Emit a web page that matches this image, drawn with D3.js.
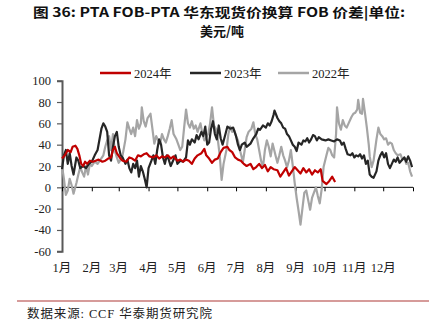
<!DOCTYPE html>
<html><head><meta charset="utf-8">
<script src="https://cdn.jsdelivr.net/npm/d3@7"></script>
<style>body{margin:0;background:#fff}svg{display:block}</style>
</head><body>
<script>
// ---- data (x = day of year, y = USD/ton) ----
const monthLabels = ["1月","2月","3月","4月","5月","6月","7月","8月","9月","10月","11月","12月"];
const monthStarts = [1,32,60,91,121,152,182,213,244,274,305,335,366];
const yTicks = [-60,-40,-20,0,20,40,60,80,100];
const seriesNames = ["2024年","2023年","2022年"];
const seriesColors = ["#c00000","#262626","#a5a5a5"];

const days2024 = [1,4,7,10,12,15,17,19,21,23,25,27,30,33,36,39,43,46,49,52,54,56,58,61,64,68,71,74,77,80,83,86,89,92,96,99,102,105,108,111,114,117,121,124,127,130,133,136,139,142,146,149,151,154,157,160,163,166,169,173,175,178,181,184,187,190,193,197,200,203,206,209,212,215,218,221,225,228,231,234,237,240,243,246,249,252,255,258,261,264,267,270,272,276,279,282,285];
const vals2024 = [27,30,35,33,38,39,36,30,22,20,24,22,25,24,25,26,24,25,27,28,35,38,32,28,25,24,28,27,25,30,29,31,32,29,28,30,27,29,28,30,27,29,25,26,24,26,25,22,27,30,32,36,30,27,23,26,27,33,37,38,35,33,28,26,25,22,20,22,17,19,22,18,21,15,19,17,16,10,14,18,11,15,19,16,13,18,14,17,12,16,14,17,6,3,6,10,5];

const days2023 = [1,3,5,7,9,11,13,16,18,20,23,26,29,32,35,38,42,44,46,48,50,52,54,56,58,60,62,64,67,69,71,73,75,77,79,81,83,85,87,89,91,94,96,98,100,102,104,106,108,110,112,114,116,119,121,124,127,130,132,134,136,139,141,143,146,148,150,152,154,156,158,160,162,164,166,168,171,173,176,179,182,184,186,188,191,193,197,200,203,205,207,210,213,215,217,219,221,222,225,227,229,231,233,235,237,239,241,243,245,247,250,252,254,256,258,260,262,264,266,268,271,275,278,281,284,287,290,292,294,296,298,301,303,305,307,309,311,313,315,317,319,321,323,325,328,330,332,334,336,338,340,342,344,346,348,350,352,355,357,359,361,363,365];
const vals2023 = [17,30,35,22,32,20,12,28,25,18,20,18,22,24,30,35,55,60,57,52,30,25,38,48,52,38,30,28,22,26,18,14,22,18,25,10,20,15,8,0,18,25,30,22,35,45,40,28,22,30,26,20,24,30,22,25,24,28,44,40,45,42,49,45,52,48,57,40,42,55,62,50,45,58,46,40,50,57,55,56,48,40,35,40,42,38,41,46,50,55,54,58,56,60,58,62,68,72,65,62,60,56,55,50,48,44,40,38,34,42,40,44,43,46,42,45,49,48,44,47,45,44,45,44,43,45,44,40,42,36,31,30,32,28,30,29,31,27,30,22,25,12,10,9,15,25,30,33,28,32,22,18,22,26,24,28,23,26,28,24,29,25,19];

const days2022 = [1,3,5,7,9,11,13,16,18,20,22,24,26,28,30,32,35,38,41,44,46,48,50,52,54,56,58,60,62,64,67,69,71,73,75,77,79,81,83,84,86,88,90,93,95,97,99,101,103,105,107,109,111,113,115,117,120,122,124,126,128,130,132,134,136,138,140,142,145,147,149,151,153,155,157,159,161,163,165,167,169,172,174,176,178,180,182,184,186,188,189,191,193,195,198,200,202,204,206,208,210,212,214,216,218,220,223,225,227,229,231,233,235,237,239,241,243,245,247,249,251,253,255,257,259,261,263,265,267,269,271,273,276,278,280,282,284,286,287,289,291,293,295,297,299,302,304,306,308,309,311,313,314,316,318,320,321,323,325,328,330,332,334,336,338,340,342,344,346,348,350,353,355,357,359,361,363,365];
const vals2022 = [20,8,-7,-3,8,2,-6,4,12,19,14,10,20,12,22,20,24,22,26,30,38,44,48,35,50,34,28,23,26,30,45,61,55,50,56,48,63,55,60,75,62,57,65,69,55,41,48,44,41,50,45,42,48,55,63,50,45,40,35,38,56,73,60,56,62,55,58,52,60,50,44,47,50,60,75,58,55,45,30,7,22,35,50,57,52,54,48,44,35,28,23,35,47,52,55,61,50,45,35,25,19,35,44,38,29,41,30,23,30,38,30,25,19,25,35,20,4,-10,-22,-35,-20,-5,-3,-12,-21,-10,-5,0,-8,-15,-2,19,30,37,35,30,28,50,75,60,54,63,58,56,60,66,69,70,73,82,70,69,83,70,56,40,29,19,25,45,56,50,48,45,46,40,42,41,35,32,30,31,26,28,22,23,15,10];

const series = [
  {name: seriesNames[2], color: seriesColors[2], days: days2022, vals: vals2022},
  {name: seriesNames[1], color: seriesColors[1], days: days2023, vals: vals2023},
  {name: seriesNames[0], color: seriesColors[0], days: days2024, vals: vals2024}
];

// ---- layout ----
const W = 432, H = 328;
const svg = d3.select("body").append("svg").attr("width", W).attr("height", H);

const x = d3.scaleLinear().domain([1, 366]).range([62, 413]);
const y = d3.scaleLinear().domain([-60, 100]).range([251.3, 80.7]);

// title
svg.append("text").attr("x", 219).attr("y", 17)
  .attr("text-anchor", "middle")
  .attr("font-family", "'Noto Sans CJK SC', sans-serif").attr("font-weight", "bold")
  .attr("font-size", 13).attr("fill", "#111")
  .attr("textLength", 372).attr("lengthAdjust", "spacingAndGlyphs")
  .text("图 36: PTA FOB-PTA 华东现货价换算 FOB 价差|单位:");
svg.append("text").attr("x", 222).attr("y", 36)
  .attr("text-anchor", "middle")
  .attr("font-family", "'Noto Sans CJK SC', sans-serif").attr("font-weight", "bold")
  .attr("font-size", 13).attr("fill", "#111")
  .text("美元/吨");

// y axis
const yAxis = svg.append("g").attr("transform", `translate(${x(1)},0)`)
  .call(d3.axisLeft(y).tickValues(yTicks).tickSize(5).tickPadding(6).tickFormat(d => String(d)));
yAxis.select(".domain").attr("stroke", "#595959").attr("stroke-width", 2);
yAxis.selectAll(".tick line").attr("stroke", "#595959").attr("stroke-width", 1.2);
yAxis.selectAll(".tick text").attr("font-family", "'Liberation Serif', serif")
  .attr("font-size", 12.5).attr("fill", "#222");

// x axis at zero
const xAxis = svg.append("g").attr("transform", `translate(0,${y(0)})`)
  .call(d3.axisBottom(x).tickValues(monthStarts).tickSize(4).tickFormat(""));
xAxis.select(".domain").attr("stroke", "#000").attr("stroke-width", 1)
  .attr("d", `M${x(1)},0H${x(366)}`);
xAxis.selectAll(".tick line").attr("stroke", "#000");

// month labels at the bottom
svg.append("g").selectAll("text").data(monthLabels).join("text")
  .attr("x", (d, i) => x(monthStarts[i]))
  .attr("y", 272)
  .attr("text-anchor", "middle")
  .attr("font-family", "'Liberation Serif', 'Noto Sans CJK SC', serif")
  .attr("font-size", 12.5).attr("fill", "#222")
  .text(d => d);

// lines
const line = d3.line().x(d => x(d[0])).y(d => y(d[1])).curve(d3.curveLinear);
svg.append("g").selectAll("path").data(series).join("path")
  .attr("d", s => line(s.days.map((d, i) => [d, s.vals[i]])))
  .attr("fill", "none").attr("stroke", s => s.color)
  .attr("stroke-width", 2.2).attr("stroke-linejoin", "round");

// legend
const legendX = [100, 190, 278];
const lg = svg.append("g").selectAll("g").data(seriesNames).join("g")
  .attr("transform", (d, i) => `translate(${legendX[i]},73)`);
lg.append("line").attr("x1", 0).attr("x2", 31).attr("y1", 0).attr("y2", 0)
  .attr("stroke", (d, i) => seriesColors[i]).attr("stroke-width", 2.5);
lg.append("text").attr("x", 34).attr("y", 4.5)
  .attr("font-family", "'Liberation Serif', 'Noto Sans CJK SC', serif")
  .attr("font-size", 12.5).attr("fill", "#222").text(d => d);

// footer
svg.append("line").attr("x1", 17).attr("x2", 429).attr("y1", 301).attr("y2", 301)
  .attr("stroke", "#c87a78").attr("stroke-width", 1.5);
svg.append("text").attr("x", 27).attr("y", 318)
  .attr("font-family", "'Liberation Serif', 'Noto Sans CJK SC', serif")
  .attr("font-size", 12.5).attr("fill", "#222")
  .attr("textLength", 185).attr("lengthAdjust", "spacing")
  .text("数据来源: CCF  华泰期货研究院");
</script>
</body></html>
